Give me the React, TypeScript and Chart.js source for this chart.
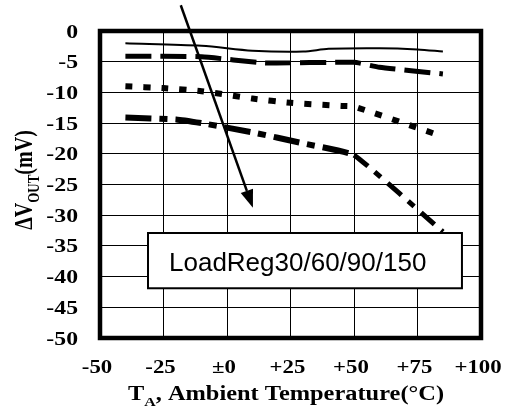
import React, { useEffect, useRef } from "react";
import { Chart, registerables } from "chart.js";

Chart.register(...registerables);

// ---- data ----
const solidTemps = [-40, -10, 10, 30, 40, 60, 75, 85];
const solidValues = [-2.0, -2.4, -3.2, -3.35, -2.9, -2.8, -3.0, -3.35];

const dashTemps = [-40, -10, 15, 50, 60, 85];
const dashValues = [-4.1, -4.2, -5.2, -5.1, -5.9, -7.0];

const dotTemps = [-40, -25, -10, 10, 25, 45, 50, 85];
const dotValues = [-9.0, -9.3, -9.8, -11.0, -11.7, -12.2, -12.3, -17.2];

const dashDotTemps = [-40, -20, -10, 10, 30, 50, 85];
const dashDotValues = [-14.1, -14.4, -15.0, -16.5, -18.3, -20.2, -32.7];

const xTicks = [-50, -25, 0, 25, 50, 75, 100];
const xTickLabels = ["-50", "-25", "±0", "+25", "+50", "+75", "+100"];
const yTicks = [0, -5, -10, -15, -20, -25, -30, -35, -40, -45, -50];
const yTickLabels = ["0", "-5", "-10", "-15", "-20", "-25", "-30", "-35", "-40", "-45", "-50"];

const legendText = "LoadReg30/60/90/150";
// annotation box (data coords): [xMin, xMax], [yTop, yBottom]
const boxX = [-31.1, 92.5];
const boxY = [-32.9, -41.9];
// arrow (data coords): start -> tip
const arrowX = [-18.2, 10.2];
const arrowY = [4.2, -28.8];

const toPts = (xs: number[], ys: number[]) => xs.map((x, i) => ({ x, y: ys[i] }));

const SERIF = '"Liberation Serif", "Times New Roman", serif';
const SANS = '"Liberation Sans", Arial, sans-serif';

const decorPlugin = {
  id: "decor",
  afterDatasetsDraw(chart: any) {
    const { ctx, chartArea: a } = chart;
    ctx.save();
    ctx.strokeStyle = "#000";
    ctx.lineWidth = 4.5;
    ctx.strokeRect(a.left, a.top, a.right - a.left, a.bottom - a.top);
    ctx.restore();
  },
  afterDraw(chart: any) {
    const { ctx } = chart;
    const xs = chart.scales.x;
    const ys = chart.scales.y;
    ctx.save();

    // box
    const bl = xs.getPixelForValue(boxX[0]);
    const br = xs.getPixelForValue(boxX[1]);
    const bt = ys.getPixelForValue(boxY[0]);
    const bb = ys.getPixelForValue(boxY[1]);
    ctx.fillStyle = "#fff";
    ctx.fillRect(bl, bt, br - bl, bb - bt);
    ctx.strokeStyle = "#000";
    ctx.lineWidth = 2;
    ctx.strokeRect(bl, bt, br - bl, bb - bt);
    ctx.fillStyle = "#000";
    ctx.font = `26px ${SANS}`;
    ctx.textAlign = "left";
    ctx.textBaseline = "alphabetic";
    ctx.fillText(legendText, bl + 21, bt + 38);

    // arrow
    const x0 = xs.getPixelForValue(arrowX[0]);
    const y0 = ys.getPixelForValue(arrowY[0]);
    const x1 = xs.getPixelForValue(arrowX[1]);
    const y1 = ys.getPixelForValue(arrowY[1]);
    const ang = Math.atan2(y1 - y0, x1 - x0);
    const headLen = 18;
    const headHalf = 6.5;
    const bx = x1 - headLen * Math.cos(ang);
    const by = y1 - headLen * Math.sin(ang);
    ctx.strokeStyle = "#000";
    ctx.lineWidth = 2.5;
    ctx.beginPath();
    ctx.moveTo(x0, y0);
    ctx.lineTo(bx, by);
    ctx.stroke();
    ctx.beginPath();
    ctx.moveTo(x1, y1);
    ctx.lineTo(bx + headHalf * Math.sin(ang), by - headHalf * Math.cos(ang));
    ctx.lineTo(bx - headHalf * Math.sin(ang), by + headHalf * Math.cos(ang));
    ctx.closePath();
    ctx.fill();

    // tick labels
    ctx.fillStyle = "#000";
    ctx.font = `bold 19px ${SERIF}`;
    ctx.textBaseline = "alphabetic";
    const stretch = 1.25;
    yTicks.forEach((v, i) => {
      const py = ys.getPixelForValue(v);
      ctx.save();
      ctx.translate(78, py + 6.5);
      ctx.scale(stretch, 1);
      ctx.textAlign = "right";
      ctx.fillText(yTickLabels[i], 0, 0);
      ctx.restore();
    });
    xTicks.forEach((v, i) => {
      const px = xs.getPixelForValue(v);
      ctx.save();
      ctx.translate(px - 3, 373);
      ctx.scale(1.2, 1);
      ctx.textAlign = "center";
      ctx.fillText(xTickLabels[i], 0, 0);
      ctx.restore();
    });

    // x title: T_A, Ambient Temperature(°C)
    {
      const main = `bold 20px ${SERIF}`;
      const sub = `bold 13px ${SERIF}`;
      ctx.font = main;
      const wT = ctx.measureText("T").width;
      const wRest = ctx.measureText(", Ambient Temperature(°C)").width;
      ctx.font = sub;
      const wA = ctx.measureText("A").width;
      const total = wT + wA + wRest;
      const sx = 1.22;
      ctx.save();
      ctx.translate(286, 400);
      ctx.scale(sx, 1);
      ctx.textAlign = "left";
      let cx = -total / 2;
      ctx.font = main;
      ctx.fillText("T", cx, 0);
      cx += wT;
      ctx.font = sub;
      ctx.fillText("A", cx, 6);
      cx += wA;
      ctx.font = main;
      ctx.fillText(", Ambient Temperature(°C)", cx, 0);
      ctx.restore();
    }

    // y title: ΔV_OUT(mV)
    {
      const main = `bold 20px ${SERIF}`;
      const sub = `bold 13px ${SERIF}`;
      ctx.font = main;
      const w1 = ctx.measureText("ΔV").width;
      const w3 = ctx.measureText("(mV)").width;
      ctx.font = sub;
      const w2 = ctx.measureText("OUT").width;
      const total = w1 + w2 + w3;
      ctx.save();
      ctx.translate(32, 180);
      ctx.rotate(-Math.PI / 2);
      ctx.scale(1, 1.3);
      ctx.textAlign = "left";
      let cx = -total / 2;
      ctx.font = main;
      ctx.fillText("ΔV", cx, 0);
      cx += w1;
      ctx.font = sub;
      ctx.fillText("OUT", cx, 5);
      cx += w2;
      ctx.font = main;
      ctx.fillText("(mV)", cx, 0);
      ctx.restore();
    }

    ctx.restore();
  },
};

export default function App() {
  const ref = useRef<HTMLCanvasElement | null>(null);

  useEffect(() => {
    if (!ref.current) return;
    const chart = new Chart(ref.current, {
      type: "line",
      data: {
        datasets: [
          {
            data: toPts(solidTemps, solidValues),
            borderColor: "#000",
            borderWidth: 2,
            pointRadius: 0,
            tension: 0.3,
            fill: false,
          },
          {
            data: toPts(dashTemps, dashValues),
            borderColor: "#000",
            borderWidth: 5,
            borderDash: [26, 9],
            pointRadius: 0,
            tension: 0.15,
            fill: false,
          },
          {
            data: toPts(dotTemps, dotValues),
            borderColor: "#000",
            borderWidth: 6,
            borderDash: [7, 11],
            pointRadius: 0,
            tension: 0.15,
            fill: false,
          },
          {
            data: toPts(dashDotTemps, dashDotValues),
            borderColor: "#000",
            borderWidth: 6,
            borderDash: [26, 8, 8, 8],
            pointRadius: 0,
            tension: 0.1,
            fill: false,
            segment: {
              borderDash: (c: any) => (c.p0.parsed.x >= 50 ? [18, 9, 8, 9] : undefined),
              borderWidth: (c: any) => (c.p0.parsed.x >= 50 ? 5 : undefined),
            },
          } as any,
        ],
      },
      options: {
        animation: false,
        responsive: false,
        maintainAspectRatio: false,
        layout: { padding: { top: 31, right: 26, left: 0, bottom: 0 } },
        plugins: {
          legend: { display: false },
          tooltip: { enabled: false },
          title: { display: false },
        },
        scales: {
          x: {
            type: "linear",
            min: -50,
            max: 100,
            ticks: { stepSize: 25, display: false },
            grid: { color: "#000", lineWidth: 1, drawTicks: false },
            border: { display: false },
            afterFit: (s: any) => {
              s.height = 71;
            },
          },
          y: {
            type: "linear",
            min: -50,
            max: 0,
            ticks: { stepSize: 5, display: false },
            grid: { color: "#000", lineWidth: 1, drawTicks: false },
            border: { display: false },
            afterFit: (s: any) => {
              s.width = 100;
            },
          },
        },
      },
      plugins: [decorPlugin],
    });
    return () => chart.destroy();
  }, []);

  return (
    <div style={{ position: "absolute", left: 0, top: 0, width: 507, height: 409, background: "#fff" }}>
      <canvas ref={ref} width={507} height={409} style={{ display: "block" }} />
    </div>
  );
}
